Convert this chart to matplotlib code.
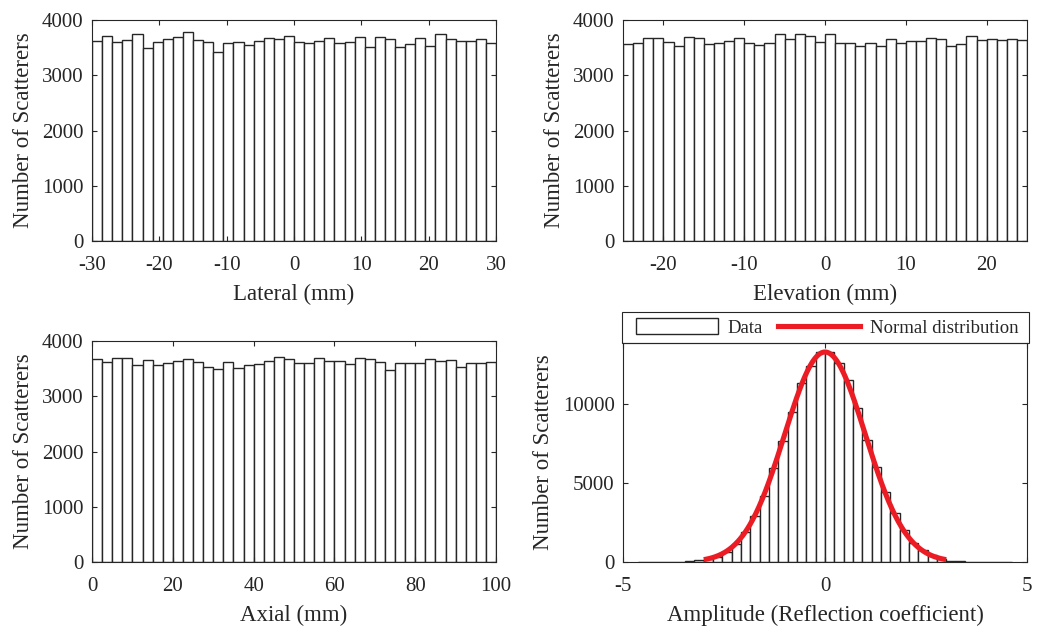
import numpy as np
import matplotlib
matplotlib.use('Agg')
import matplotlib.pyplot as plt
from matplotlib.patches import Patch, Rectangle
from matplotlib.lines import Line2D

plt.rcParams['font.family'] = ['Liberation Serif', 'DejaVu Serif']
plt.rcParams['axes.unicode_minus'] = False

# ---- data ----
lateral_counts = [3619, 3716, 3601, 3637, 3740, 3493, 3607, 3662, 3686, 3782,
                  3631, 3595, 3420, 3589, 3595, 3547, 3613, 3674, 3656, 3716,
                  3607, 3577, 3613, 3668, 3589, 3607, 3698, 3505, 3698, 3650,
                  3505, 3565, 3668, 3529, 3752, 3662, 3625, 3619, 3650, 3577]
elevation_counts = [3565, 3583, 3668, 3668, 3601, 3523, 3686, 3680, 3559, 3583,
                    3613, 3674, 3589, 3541, 3589, 3746, 3650, 3740, 3710, 3595,
                    3746, 3577, 3577, 3535, 3577, 3529, 3656, 3589, 3619, 3613,
                    3668, 3650, 3535, 3565, 3704, 3637, 3662, 3631, 3650, 3631]
axial_counts = [3680, 3614, 3698, 3698, 3560, 3662, 3572, 3608, 3644, 3680,
                3614, 3535, 3493, 3626, 3517, 3560, 3584, 3632, 3710, 3668,
                3608, 3596, 3686, 3632, 3644, 3584, 3698, 3680, 3620, 3481,
                3596, 3596, 3608, 3680, 3638, 3650, 3529, 3596, 3608, 3620]
amplitude_counts = [1, 1, 3, 8, 20, 42, 100, 190, 340, 634,
                    1122, 1883, 2917, 4166, 5961, 7673, 9512, 11312, 12410, 13300,
                    13310, 12620, 11522, 9727, 7717, 5986, 4420, 3107, 2010, 1205,
                    760, 425, 200, 95, 45, 20, 8, 3, 1, 1]

lateral_range = (-30, 30)
elevation_range = (-25, 25)
axial_range = (0, 100)
amplitude_range = (-4.62, 4.62)

# normal fit shown in the last panel
fit_mu, fit_sigma, fit_peak = 0.0, 1.0, 13300
fit_span = (-3, 3)

edge_col = '#262626'
red = '#EC1C24'


def style(ax):
    ax.tick_params(direction='in', top=True, right=True, length=3.5, width=0.8,
                   labelsize=15, colors=edge_col)
    ax.tick_params(axis='x', pad=11)
    ax.tick_params(axis='y', pad=6)
    for s in ax.spines.values():
        s.set_linewidth(0.8)
        s.set_color(edge_col)


def hist_panel(ax, counts, rng, xlim, xticks, xlabel, ylim, yticks):
    edges = np.linspace(rng[0], rng[1], len(counts) + 1)
    ax.bar(edges[:-1], counts, width=np.diff(edges), align='edge',
           color='white', edgecolor=edge_col, linewidth=1.0)
    ax.set_xlim(*xlim)
    ax.set_ylim(*ylim)
    ax.set_xticks(xticks)
    ax.set_yticks(yticks)
    ax.set_xlabel(xlabel, fontsize=16.5, color=edge_col, labelpad=6)
    ax.set_ylabel('Number of Scatterers', fontsize=16.5, color=edge_col, labelpad=6)
    style(ax)


fig = plt.figure(figsize=(10.41, 6.30), dpi=100)
W, H = 1041, 630


def place(l, r, t, b):
    return fig.add_axes([l / W, 1 - b / H, (r - l) / W, (b - t) / H])


ax1 = place(92, 496, 20, 241)
ax2 = place(623, 1027, 20, 241)
ax3 = place(92, 496, 341, 562)
ax4 = place(623, 1027, 343, 562)

hist_panel(ax1, lateral_counts, lateral_range, (-30, 30), range(-30, 31, 10),
           'Lateral (mm)', (0, 4000), range(0, 4001, 1000))
hist_panel(ax2, elevation_counts, elevation_range, (-25, 25), range(-20, 21, 10),
           'Elevation (mm)', (0, 4000), range(0, 4001, 1000))
hist_panel(ax3, axial_counts, axial_range, (0, 100), range(0, 101, 20),
           'Axial (mm)', (0, 4000), range(0, 4001, 1000))
hist_panel(ax4, amplitude_counts, amplitude_range, (-5, 5), [-5, 0, 5],
           'Amplitude (Reflection coefficient)', (0, 13870), [0, 5000, 10000])

xs = np.linspace(fit_span[0], fit_span[1], 300)
ax4.plot(xs, fit_peak * np.exp(-0.5 * ((xs - fit_mu) / fit_sigma) ** 2),
         color=red, lw=3.7, solid_capstyle='butt')

# legend above the amplitude panel, with a frame as wide as the axes
handles = [Patch(facecolor='white', edgecolor=edge_col, linewidth=1.0),
           Line2D([], [], color=red, lw=3.7)]
leg = fig.legend(handles, ['Data', 'Normal distribution'], ncol=2,
                 loc='center', bbox_to_anchor=(827 / W, 1 - 327.5 / H),
                 fontsize=13.5, frameon=False,
                 handlelength=4.4, handleheight=0.9, handletextpad=0.5,
                 columnspacing=0.8, borderpad=0.35)
for t in leg.get_texts():
    t.set_color(edge_col)
fig.patches.append(Rectangle((622 / W, 1 - 343 / H), 407 / W, 31 / H,
                             transform=fig.transFigure, fill=False,
                             edgecolor=edge_col, linewidth=0.8))

fig.savefig('out.png', dpi=100)
